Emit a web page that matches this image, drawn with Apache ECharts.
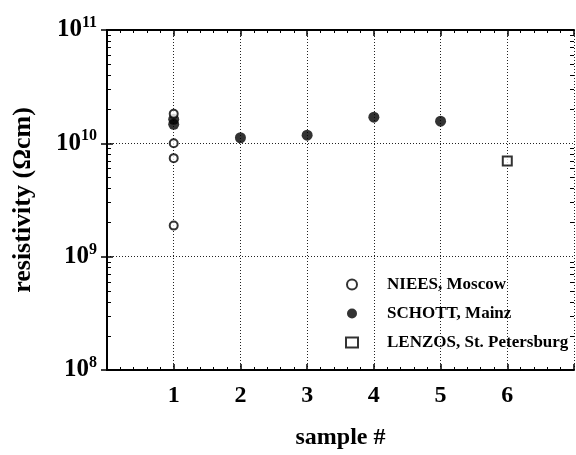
<!DOCTYPE html>
<html>
<head>
<meta charset="utf-8">
<script src="https://cdn.jsdelivr.net/npm/echarts@6/dist/echarts.min.js"></script>
<style>
html, body { margin: 0; padding: 0; background: #fff; }
#chart { width: 576px; height: 455px; }
</style>
</head>
<body>
<div id="chart"></div>
<script>
// values
const nieesX = [1, 1, 1, 1]
const nieesY = [1.82e10, 1.0e10, 7.4e9, 1.88e9]
const schottX = [1, 1, 2, 3, 4, 5]
const schottY = [1.63e10, 1.47e10, 1.12e10, 1.18e10, 1.7e10, 1.57e10]
const lenzosX = [6]
const lenzosY = [6.97e9]
const xTicks = [1, 2, 3, 4, 5, 6]
const decades = [1e8, 1e9, 1e10]
const seriesNames = ['NIEES, Moscow', 'SCHOTT, Mainz', 'LENZOS, St. Petersburg']

const font = 'Liberation Serif'
const pairs = (xs, ys) => xs.map((x, i) => [x, ys[i]])
// log minor ticks at 2..9 of each decade
const logMinor = []
decades.forEach(d => { for (let k = 2; k <= 9; k++) logMinor.push(d * k) })

const chart = echarts.init(document.getElementById('chart'))

const tickStyle = { show: true, inside: true, length: 6, lineStyle: { color: '#000', width: 1.5 } }
const minorStyle = { show: true, splitNumber: 5, length: 3, lineStyle: { color: '#000', width: 1 } }
const gridLine = { show: true, lineStyle: { color: '#222', type: [1, 2], width: 1 } }

function logAxis(extra) {
  return Object.assign({
    type: 'log',
    logBase: 10,
    min: 1e8,
    max: 1e11
  }, extra)
}

function minorLogAxis(pos) {
  return logAxis({
    position: pos,
    axisLine: { show: false },
    axisTick: { show: true, inside: true, length: 4, customValues: logMinor, lineStyle: { color: '#000', width: 1 } },
    splitLine: { show: false },
    axisLabel: { show: false }
  })
}

chart.setOption({
  animation: false,
  backgroundColor: '#fff',
  textStyle: { fontFamily: font },
  grid: { left: 107, right: 2, top: 30, bottom: 85, outerBoundsMode: 'none' },
  legend: {
    orient: 'vertical',
    left: 340,
    top: 271,
    itemGap: 12,
    itemWidth: 12,
    itemHeight: 10,
    textStyle: { fontFamily: font, fontWeight: 'bold', fontSize: 17, color: '#000', padding: [0, 0, 0, 24] },
    data: seriesNames
  },
  xAxis: [{
    type: 'value',
    min: 0,
    max: 7,
    interval: 1,
    name: 'sample #',
    nameLocation: 'middle',
    nameGap: 56,
    nameTextStyle: { fontFamily: font, fontWeight: 'bold', fontSize: 24, color: '#000' },
    axisLine: { show: true, lineStyle: { color: '#000', width: 2 } },
    axisTick: tickStyle,
    minorTick: minorStyle,
    splitLine: gridLine,
    axisLabel: {
      fontFamily: font, fontWeight: 'bold', fontSize: 24, color: '#000', margin: 14,
      formatter: v => xTicks.includes(v) ? String(v) : ''
    }
  }, {
    type: 'value',
    position: 'top',
    min: 0,
    max: 7,
    interval: 1,
    axisLine: { show: true, lineStyle: { color: '#000', width: 2 } },
    axisTick: tickStyle,
    minorTick: minorStyle,
    splitLine: { show: false },
    axisLabel: { show: false }
  }],
  yAxis: [logAxis({
    name: 'resistivity (Ωcm)',
    nameLocation: 'middle',
    nameGap: 71,
    nameTextStyle: { fontFamily: font, fontWeight: 'bold', fontSize: 26, color: '#000' },
    axisLine: { show: true, lineStyle: { color: '#000', width: 2 } },
    axisTick: tickStyle,
    splitLine: gridLine,
    axisLabel: {
      margin: 10,
      formatter: v => '{b|10}{s|' + Math.round(Math.log10(v)) + '}',
      rich: {
        b: { fontFamily: font, fontWeight: 'bold', fontSize: 25, color: '#000' },
        s: { fontFamily: font, fontWeight: 'bold', fontSize: 16, color: '#000', padding: [0, 0, 14, 0] }
      }
    }
  }), logAxis({
    position: 'right',
    axisLine: { show: true, lineStyle: { color: '#000', width: 2 } },
    axisTick: tickStyle,
    splitLine: { show: false },
    axisLabel: { show: false }
  }), minorLogAxis('left'), minorLogAxis('right')],
  series: [{
    name: seriesNames[0],
    type: 'scatter',
    symbol: 'emptyCircle',
    symbolSize: 8,
    itemStyle: { color: '#000', borderColor: '#000', borderWidth: 2 },
    data: pairs(nieesX, nieesY),
    z: 3
  }, {
    name: seriesNames[1],
    type: 'scatter',
    symbol: 'circle',
    symbolSize: 11,
    itemStyle: { color: '#000' },
    data: pairs(schottX, schottY),
    z: 2
  }, {
    name: seriesNames[2],
    type: 'scatter',
    symbol: 'emptyRect',
    symbolSize: 9,
    itemStyle: { color: '#000', borderColor: '#000', borderWidth: 2 },
    data: pairs(lenzosX, lenzosY)
  }]
})
</script>
</body>
</html>
